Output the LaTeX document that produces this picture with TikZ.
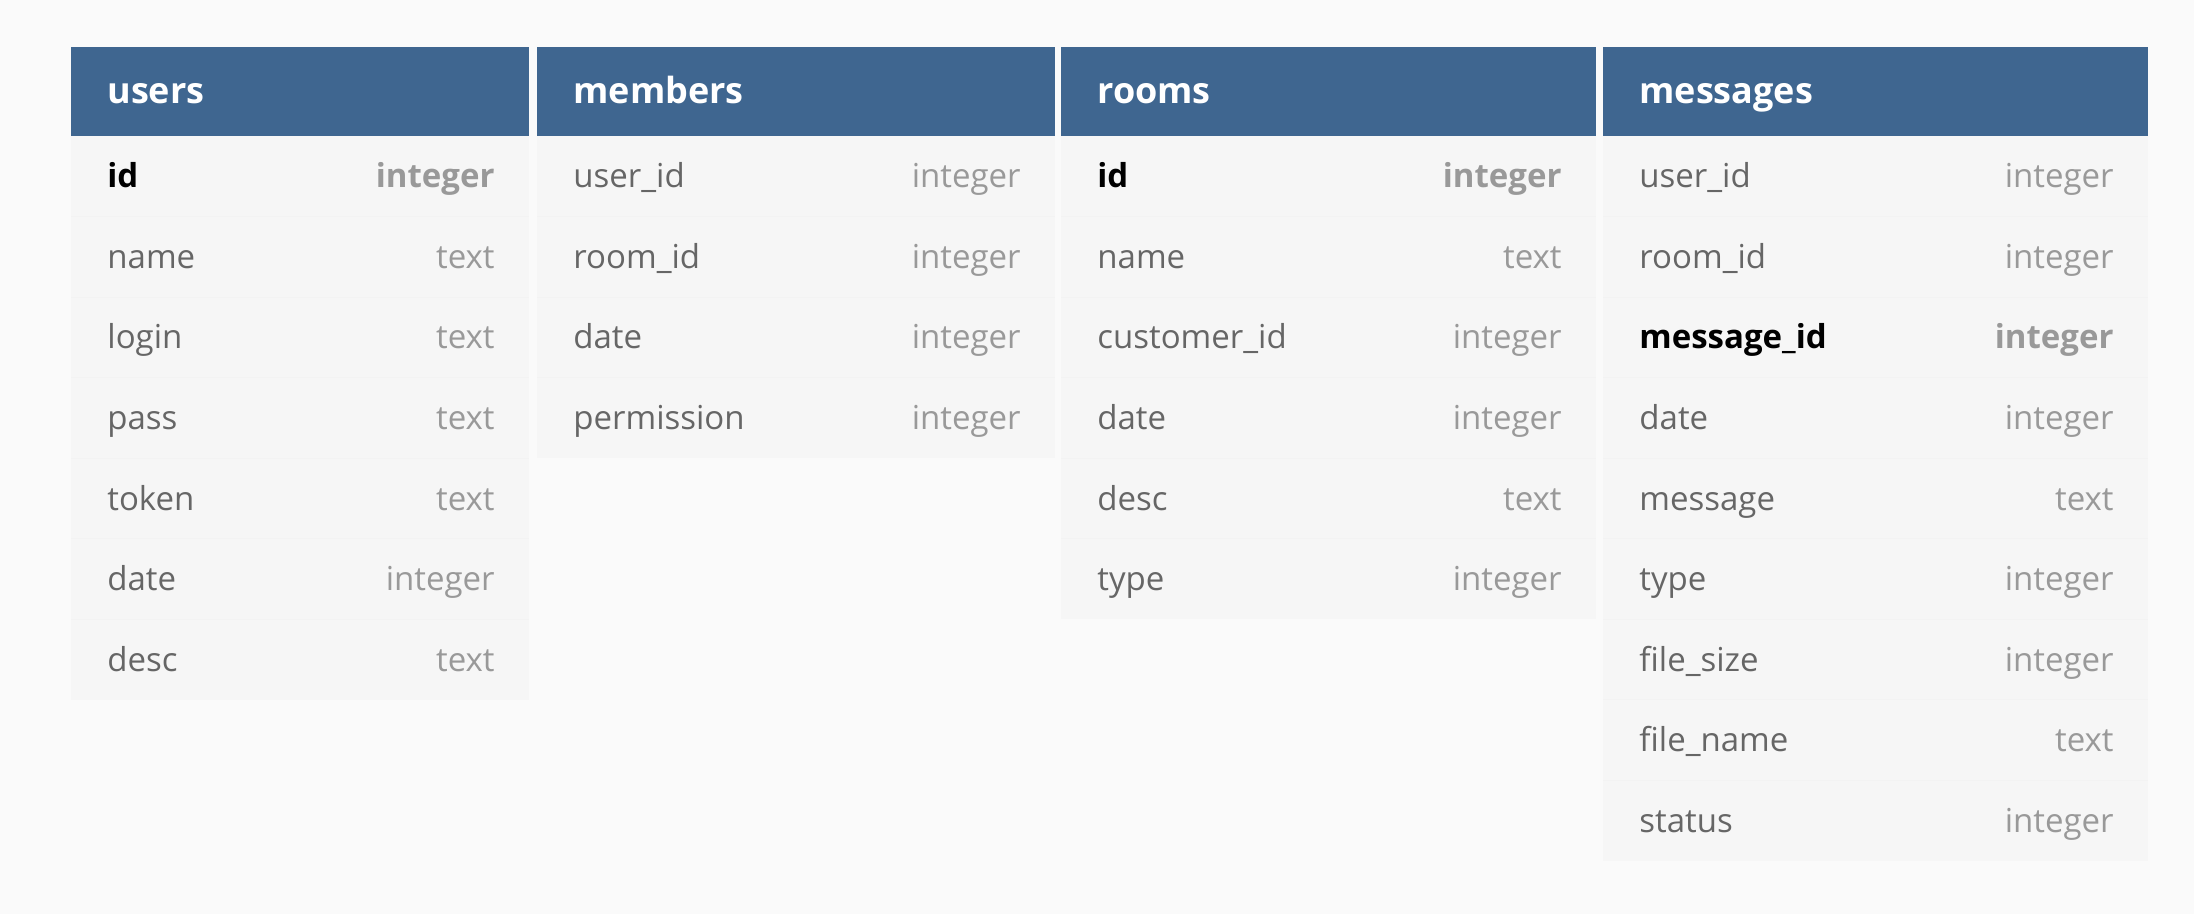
\documentclass[tikz,border=0pt]{standalone}
\usepackage{fontspec}
\setmainfont{Open Sans}
\definecolor{bgc}{HTML}{FAFAFA}
\definecolor{hdr}{HTML}{3F6690}
\definecolor{bodyc}{HTML}{F6F6F6}
\definecolor{sepc}{HTML}{F3F3F3}
\definecolor{fname}{HTML}{666666}
\definecolor{ftype}{HTML}{999999}
\tikzset{
  hdrtext/.style={anchor=base west, inner sep=0pt, text=white, font=\fontsize{18}{20}\selectfont\bfseries},
  fieldtext/.style={anchor=base west, inner sep=0pt, text=fname, font=\fontsize{16.5}{20}\selectfont},
  typetext/.style={anchor=base east, inner sep=0pt, text=ftype, font=\fontsize{16.5}{20}\selectfont},
  pkfield/.style={anchor=base west, inner sep=0pt, text=black, font=\fontsize{16.5}{20}\selectfont\bfseries},
  pktype/.style={anchor=base east, inner sep=0pt, text=ftype, font=\fontsize{16.5}{20}\selectfont\bfseries},
  rowsep/.style={draw=sepc, line width=0.4pt},
}
\newcommand\dbtable[6]{%
  \fill[hdr] (#2,47.5) rectangle (#3,136);
  \fill[bodyc] (#2,136) rectangle (#3,{136+#4*80.5});
  \node[hdrtext] (#1-title) at ({#2+36},104) {#5};
  \foreach \f/\t/\p [count=\i] in {#6} {
    \pgfmathsetmacro\ytop{136+(\i-1)*80.5}
    \pgfmathsetmacro\yb{\ytop+52}
    \ifnum\i>1 \draw[rowsep] (#2,\ytop) -- (#3,\ytop); \fi
    \ifnum\p=1
      \node[pkfield] (#1-f\i) at ({#2+36},\yb) {\f};
      \node[pktype] (#1-t\i) at ({#3-34},\yb) {\t};
    \else
      \node[fieldtext] (#1-f\i) at ({#2+36},\yb) {\f};
      \node[typetext] (#1-t\i) at ({#3-34},\yb) {\t};
    \fi
  }
}
\begin{document}
\begin{tikzpicture}[x=0.5pt,y=-0.5pt]
  \useasboundingbox (0,0) rectangle (2194,914);
  \fill[bgc] (0,0) rectangle (2194,914);
  \dbtable{users}{71}{529}{7}{users}{id/integer/1, name/text/0, login/text/0, pass/text/0, token/text/0, date/integer/0, desc/text/0}
  \dbtable{members}{537}{1055}{4}{members}{user\_id/integer/0, room\_id/integer/0, date/integer/0, permission/integer/0}
  \dbtable{rooms}{1061}{1596}{6}{rooms}{id/integer/1, name/text/0, customer\_id/integer/0, date/integer/0, desc/text/0, type/integer/0}
  \dbtable{messages}{1603}{2148}{9}{messages}{user\_id/integer/0, room\_id/integer/0, message\_id/integer/1, date/integer/0, message/text/0, type/integer/0, file\_size/integer/0, file\_name/text/0, status/integer/0}
\end{tikzpicture}
\end{document}
